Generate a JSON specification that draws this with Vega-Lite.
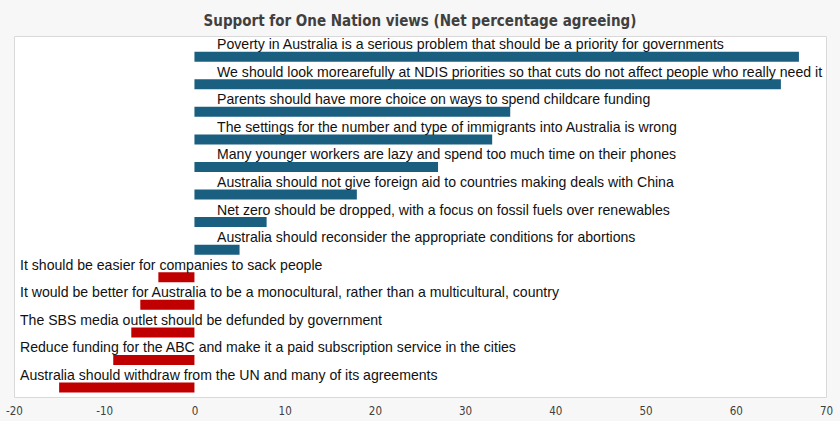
{
  "$schema": "https://vega.github.io/schema/vega-lite/v6.json",
  "width": 812,
  "height": 361,
  "autosize": {"type": "none"},
  "padding": {"left": 14, "top": 36, "right": 14, "bottom": 24},
  "background": "#f7f7f7",
  "view": {"fill": "white", "stroke": "#d9d9d9", "strokeWidth": 1},
  "title": {
    "text": "Support for One Nation views (Net percentage agreeing)",
    "anchor": "middle",
    "frame": "group",
    "font": "DejaVu Sans Condensed",
    "fontSize": 15,
    "fontWeight": "bold",
    "color": "#404040",
    "baseline": "alphabetic",
    "offset": 12,
    "dy": 17
  },
  "data": {
    "values": [
      {"statement": "Poverty in Australia is a serious problem that should be a priority for governments", "value": 67},
      {"statement": "We should look morearefully at NDIS priorities so that cuts do not affect people who really need it", "value": 65},
      {"statement": "Parents should have more choice on ways to spend childcare funding", "value": 35},
      {"statement": "The settings for the number and type of immigrants into Australia is wrong", "value": 33},
      {"statement": "Many younger workers are lazy and spend too much time on their phones", "value": 27},
      {"statement": "Australia should not give foreign aid to countries making deals with China", "value": 18},
      {"statement": "Net zero should be dropped, with a focus on fossil fuels over renewables", "value": 8},
      {"statement": "Australia should reconsider the appropriate conditions for abortions", "value": 5},
      {"statement": "It should be easier for companies to sack people", "value": -4},
      {"statement": "It would be better for Australia to be a monocultural, rather than a multicultural, country", "value": -6},
      {"statement": "The SBS media outlet should be defunded by government", "value": -7},
      {"statement": "Reduce funding for the ABC and make it a paid subscription service in the cities", "value": -9},
      {"statement": "Australia should withdraw from the UN and many of its agreements", "value": -15}
    ]
  },
  "encoding": {
    "y": {
      "field": "statement",
      "type": "nominal",
      "sort": [
        "Poverty in Australia is a serious problem that should be a priority for governments",
        "We should look morearefully at NDIS priorities so that cuts do not affect people who really need it",
        "Parents should have more choice on ways to spend childcare funding",
        "The settings for the number and type of immigrants into Australia is wrong",
        "Many younger workers are lazy and spend too much time on their phones",
        "Australia should not give foreign aid to countries making deals with China",
        "Net zero should be dropped, with a focus on fossil fuels over renewables",
        "Australia should reconsider the appropriate conditions for abortions",
        "It should be easier for companies to sack people",
        "It would be better for Australia to be a monocultural, rather than a multicultural, country",
        "The SBS media outlet should be defunded by government",
        "Reduce funding for the ABC and make it a paid subscription service in the cities",
        "Australia should withdraw from the UN and many of its agreements"
      ],
      "axis": null,
      "scale": {"paddingInner": 0, "paddingOuter": 0.047}
    }
  },
  "layer": [
    {
      "mark": {"type": "bar", "height": 10, "yOffset": 5.6},
      "encoding": {
        "x": {
          "field": "value",
          "type": "quantitative",
          "scale": {"domain": [-20, 70], "nice": false},
          "axis": {
            "values": [-20, -10, 0, 10, 20, 30, 40, 50, 60, 70],
            "labelExpr": "'' + datum.value",
            "grid": false,
            "domain": false,
            "ticks": false,
            "labelPadding": 8,
            "title": null,
            "labelFont": "DejaVu Sans Condensed",
            "labelFontSize": 11.5,
            "labelColor": "#404040",
            "labelFlush": false
          }
        },
        "color": {
          "condition": {"test": "datum.value < 0", "value": "#c00000"},
          "value": "#1a5e80"
        }
      }
    },
    {
      "transform": [{"filter": "datum.value >= 0"}],
      "mark": {"type": "text", "align": "left", "baseline": "alphabetic", "dx": 22.6, "yOffset": -2, "font": "Liberation Sans", "fontSize": 14.1, "color": "#111111"},
      "encoding": {
        "x": {"datum": 0, "type": "quantitative"},
        "text": {"field": "statement"}
      }
    },
    {
      "transform": [{"filter": "datum.value < 0"}],
      "mark": {"type": "text", "align": "left", "baseline": "alphabetic", "dx": 6, "yOffset": -2, "font": "Liberation Sans", "fontSize": 14.1, "color": "#111111"},
      "encoding": {
        "x": {"datum": -20, "type": "quantitative"},
        "text": {"field": "statement"}
      }
    }
  ]
}
